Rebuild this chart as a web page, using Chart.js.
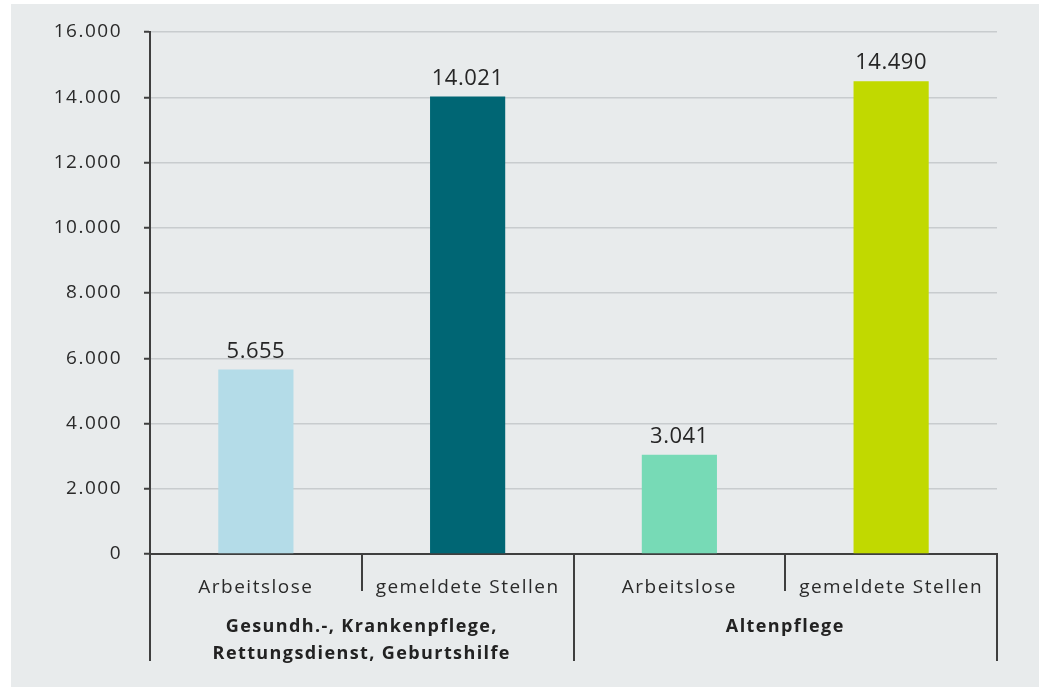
<!DOCTYPE html>
<html lang="de">
<head>
<meta charset="utf-8">
<script src="https://cdn.jsdelivr.net/npm/chart.js@4/dist/chart.umd.min.js"></script>
<style>
  body { margin: 0; background: #fff; }
  #wrap { position: absolute; left: 11px; top: 4px; width: 1028px; height: 683px; background: #e8ebec; }
</style>
</head>
<body>
<div id="wrap"><canvas id="stellenChart"></canvas></div>
<script>
// Werte je Kategorie
const kategorien = ['Arbeitslose', 'gemeldete Stellen', 'Arbeitslose', 'gemeldete Stellen'];
const werte = [5655, 14021, 3041, 14490];
const farben = ['#b4dce8', '#006674', '#77dab6', '#c1d900'];
const gruppen = [
    { lines: ['Gesundh.-, Krankenpflege,', 'Rettungsdienst, Geburtshilfe'], from: 0, to: 1 },
    { lines: ['Altenpflege'], from: 2, to: 3 }
];
const yMax = 16000;
const yStep = 2000;

const FONT = '"Open Sans", "Noto Sans", sans-serif';
const fmt = v => String(Math.round(v)).replace(/\B(?=(\d{3})+(?!\d))/g, '.');

// etwas breitere Laufweite für alle Texte
const spacingPlugin = {
    id: 'spacing',
    beforeUpdate(chart) { chart.ctx.letterSpacing = '1.5px'; },
    beforeDraw(chart) { chart.ctx.letterSpacing = '1.5px'; }
};

// Beschriftung über den Balken, Trennstriche und Gruppennamen unter der Achse
const extrasPlugin = {
    id: 'extras',
    afterDraw(chart) {
        const ctx = chart.ctx;
        const x = chart.scales.x;
        const area = chart.chartArea;
        const meta = chart.getDatasetMeta(0);

        ctx.save();
        ctx.letterSpacing = '0.5px';
        ctx.fillStyle = '#262626';
        ctx.font = '22px ' + FONT;
        ctx.textAlign = 'center';
        ctx.textBaseline = 'alphabetic';
        meta.data.forEach((bar, i) => {
            ctx.fillText(fmt(werte[i]), bar.x, bar.y - 12);
        });

        const edge = i => {
            if (i <= 0) return area.left;
            if (i >= kategorien.length) return area.right;
            return (x.getPixelForValue(i - 1) + x.getPixelForValue(i)) / 2;
        };

        ctx.strokeStyle = '#3f3f3f';
        ctx.lineWidth = 2;
        // kurze Striche zwischen den Kategorien einer Gruppe
        gruppen.forEach(g => {
            for (let i = g.from + 1; i <= g.to; i++) {
                const px = Math.round(edge(i));
                ctx.beginPath();
                ctx.moveTo(px, area.bottom);
                ctx.lineTo(px, area.bottom + 37);
                ctx.stroke();
            }
        });
        // lange Striche an den Gruppengrenzen
        const grenzen = new Set();
        gruppen.forEach(g => { grenzen.add(g.from); grenzen.add(g.to + 1); });
        grenzen.forEach(i => {
            const px = Math.round(edge(i));
            ctx.beginPath();
            ctx.moveTo(px, area.bottom);
            ctx.lineTo(px, area.bottom + 107);
            ctx.stroke();
        });

        ctx.fillStyle = '#222';
        ctx.letterSpacing = '1.4px';
        ctx.font = 'bold 18px ' + FONT;
        ctx.textBaseline = 'middle';
        gruppen.forEach(g => {
            const cx = (edge(g.from) + edge(g.to + 1)) / 2;
            g.lines.forEach((t, k) => {
                ctx.fillText(t, cx, area.bottom + 73 + k * 27);
            });
        });
        ctx.restore();
    }
};

new Chart(document.getElementById('stellenChart'), {
    type: 'bar',
    data: {
        labels: kategorien,
        datasets: [{
            data: werte,
            backgroundColor: farben,
            categoryPercentage: 1,
            barPercentage: 0.355
        }]
    },
    options: {
        responsive: true,
        maintainAspectRatio: false,
        animation: false,
        layout: { padding: { top: 28, right: 42, bottom: 0, left: 0 } },
        plugins: { legend: { display: false }, tooltip: { enabled: false } },
        scales: {
            x: {
                afterFit(scale) { scale.height = 133; scale.paddingLeft = 0; scale.paddingRight = 0; },
                grid: { display: false },
                border: { display: true, color: '#3f3f3f', width: 2 },
                ticks: { color: '#2a2a2a', font: { family: FONT, size: 19 }, padding: 14 }
            },
            y: {
                min: 0,
                max: yMax,
                afterFit(scale) { scale.width = 139; scale.paddingTop = 0; scale.paddingBottom = 0; },
                grid: { color: '#c8ccce', lineWidth: 1.5, tickLength: 6, tickColor: '#3f3f3f', tickWidth: 2 },
                border: { display: true, color: '#3f3f3f', width: 2 },
                ticks: {
                    stepSize: yStep,
                    color: '#2a2a2a',
                    padding: 22,
                    font: { family: FONT, size: 19 },
                    callback: v => fmt(v)
                }
            }
        }
    },
    plugins: [spacingPlugin, extrasPlugin]
});
</script>
</body>
</html>
